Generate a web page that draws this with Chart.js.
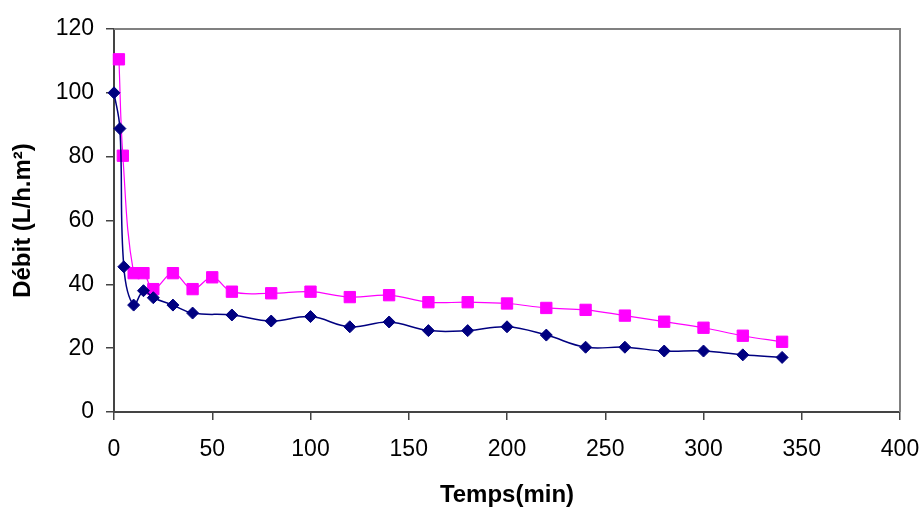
<!DOCTYPE html>
<html>
<head>
<meta charset="utf-8">
<script src="https://cdn.jsdelivr.net/npm/chart.js@4.4.1/dist/chart.umd.min.js"></script>
<style>
  html, body { margin: 0; padding: 0; background: #fff; }
  #wrap { width: 922px; height: 508px; }
</style>
</head>
<body>
<div id="wrap"><canvas id="debitChart" width="922" height="508"></canvas></div>
<script>
// Temps (min) and débit (L/h.m²)
const timesBlue = [0, 3, 5, 10, 15, 20, 30, 40, 60, 80, 100, 120, 140, 160, 180, 200, 220, 240, 260, 280, 300, 320, 340];
const debitBlue = [100, 88.8, 45.5, 33.5, 38, 35.8, 33.5, 31, 30.4, 28.5, 29.9, 26.7, 28.2, 25.5, 25.5, 26.7, 24.1, 20.3, 20.3, 19.1, 19.1, 17.9, 17.1];

const timesPink = [2.5, 4.5, 10, 15, 20, 30, 40, 50, 60, 80, 100, 120, 140, 160, 180, 200, 220, 240, 260, 280, 300, 320, 340];
const debitPink = [110.5, 80.3, 43.5, 43.5, 38.5, 43.5, 38.5, 42.2, 37.7, 37.2, 37.7, 36, 36.6, 34.4, 34.4, 34, 32.6, 32, 30.2, 28.3, 26.4, 23.9, 22];

const xTicks = [0, 50, 100, 150, 200, 250, 300, 350, 400];
const yTicks = [0, 20, 40, 60, 80, 100, 120];

const toPoints = (xs, ys) => xs.map((x, i) => ({ x: x, y: ys[i] }));

// grey frame on top and right of the plot area, like the Excel chart
const plotFrame = {
    id: 'plotFrame',
    beforeDatasetsDraw(chart) {
        const { ctx, chartArea: a } = chart;
        ctx.save();
        ctx.strokeStyle = '#808080';
        ctx.lineWidth = 2;
        ctx.beginPath();
        ctx.moveTo(a.left, a.top);
        ctx.lineTo(a.right, a.top);
        ctx.lineTo(a.right, a.bottom);
        ctx.stroke();
        ctx.restore();
    }
};

const ctx = document.getElementById('debitChart').getContext('2d');
const chart = new Chart(ctx, {
    type: 'line',
    data: {
        datasets: [{
            label: 'Série 1',
            data: toPoints(timesBlue, debitBlue),
            borderColor: '#000080',
            backgroundColor: '#000080',
            borderWidth: 1.5,
            pointStyle: 'rectRot',
            pointRadius: 6,
            pointBorderWidth: 1,
            tension: 0.4,
            clip: false
        }, {
            label: 'Série 2',
            data: toPoints(timesPink, debitPink),
            borderColor: '#ff00ff',
            backgroundColor: '#ff00ff',
            borderWidth: 1.2,
            pointStyle: 'rect',
            pointRadius: 8,
            pointBorderWidth: 1,
            tension: 0.4,
            clip: false
        }]
    },
    options: {
        responsive: false,
        animation: false,
        layout: { padding: { top: 29, right: 22, left: 0, bottom: 0 } },
        plugins: {
            legend: { display: false },
            tooltip: { enabled: false }
        },
        scales: {
            x: {
                type: 'linear',
                min: 0,
                max: 400,
                afterFit: (scale) => {
                    scale.height = 96;
                    scale.paddingLeft = 0;
                    scale.paddingRight = 0;
                },
                afterBuildTicks: (scale) => { scale.ticks = xTicks.map(v => ({ value: v })); },
                grid: { drawOnChartArea: false, drawTicks: true, tickLength: 8, color: '#444', lineWidth: 1.5 },
                border: { display: true, color: '#444', width: 2 },
                ticks: { color: '#000', padding: 16, maxRotation: 0, font: { family: 'Liberation Sans, Arial', size: 23 } },
                title: {
                    display: true,
                    text: 'Temps(min)',
                    color: '#000',
                    padding: { top: 0, bottom: -2 },
                    font: { family: 'Liberation Sans, Arial', size: 24, weight: 'bold' }
                }
            },
            y: {
                min: 0,
                max: 120,
                afterFit: (scale) => {
                    scale.width = 114;
                    scale.paddingTop = 0;
                    scale.paddingBottom = 0;
                },
                afterBuildTicks: (scale) => { scale.ticks = yTicks.map(v => ({ value: v })); },
                grid: { drawOnChartArea: false, drawTicks: true, tickLength: 8, color: '#444', lineWidth: 1.5 },
                border: { display: true, color: '#444', width: 2 },
                ticks: { color: '#000', padding: 12, font: { family: 'Liberation Sans, Arial', size: 23 } },
                title: {
                    display: true,
                    text: 'Débit (L/h.m²)',
                    color: '#000',
                    padding: { top: 9, bottom: 0 },
                    font: { family: 'Liberation Sans, Arial', size: 24, weight: 'bold' }
                }
            }
        }
    },
    plugins: [plotFrame]
});
</script>
</body>
</html>
